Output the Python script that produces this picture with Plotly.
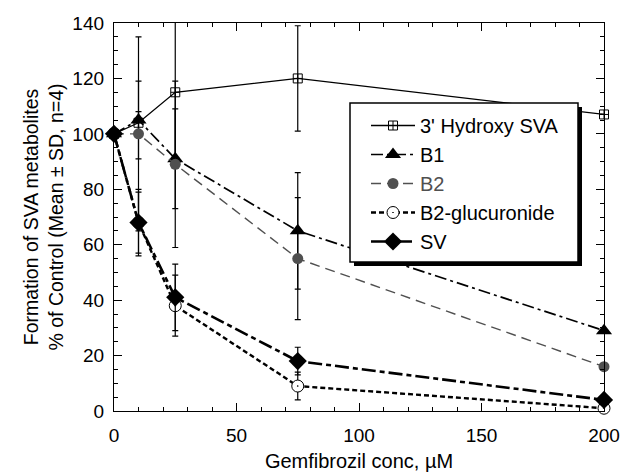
import plotly.graph_objects as go

# ---- data ----
conc = [0, 10, 25, 75, 200]
hydroxy_sva = [100, 104, 115, 120, 107]
hydroxy_sva_sd = [0, 4, 26, 19, 0]
b1 = [100, 105, 91, 65, 29]
b1_sd = [0, 14, 18, 21, 0]
b2 = [100, 100, 89, 55, 16]
b2_sd = [0, 35, 30, 22, 0]
b2_gluc = [100, 68, 38, 9, 1]
b2_gluc_sd = [0, 11, 11, 5, 0]
sv = [100, 68, 41, 18, 4]
sv_sd = [0, 12, 12, 5, 0]

FONT = "Arial, Liberation Sans, sans-serif"
W, H = 620, 475
L, R, T, B = 114, 16, 23, 64
PW, PH = W - L - R, H - T - B


def px_x(p):
    return (p - L) / PW


def px_y(p):
    return (H - B - p) / PH


def err(vals, color="black"):
    return dict(type="data", array=vals, visible=True, color=color,
                thickness=1.2, width=3)


fig = go.Figure()

fig.add_trace(go.Scatter(
    x=conc, y=hydroxy_sva, name="3' Hydroxy SVA", legendgroup="a",
    mode="lines+markers", error_y=err(hydroxy_sva_sd),
    line=dict(color="black", width=1.3),
    marker=dict(symbol="square-cross-open", size=9, color="black",
                line=dict(color="black", width=1)),
    cliponaxis=False))

fig.add_trace(go.Scatter(
    x=conc, y=b1, name="B1", legendgroup="b",
    mode="lines+markers", error_y=err(b1_sd),
    line=dict(color="black", width=1.7, dash="12px,4px,3px,4px"),
    marker=dict(symbol="triangle-up", size=14, color="black"),
    cliponaxis=False))

fig.add_trace(go.Scatter(
    x=conc, y=b2, name="<span style='color:#505050'>B2</span>", legendgroup="c",
    mode="lines+markers", error_y=err(b2_sd),
    line=dict(color="#505050", width=1.4, dash="10px,6px"),
    marker=dict(symbol="circle", size=11, color="#505050"),
    cliponaxis=False))

fig.add_trace(go.Scatter(
    x=conc, y=b2_gluc, name="B2-glucuronide", legendgroup="d",
    mode="lines+markers", error_y=err(b2_gluc_sd),
    line=dict(color="black", width=2.4, dash="5px,3px"),
    marker=dict(symbol="circle-dot", size=12, color="white",
                line=dict(color="black", width=1)),
    cliponaxis=False))

fig.add_trace(go.Scatter(
    x=conc, y=sv, name="SV", legendgroup="e",
    mode="lines+markers", error_y=err(sv_sd),
    line=dict(color="black", width=2.6, dash="14px,4px,5px,4px"),
    marker=dict(symbol="diamond", size=14, color="black"),
    cliponaxis=False))

# legend box with drop shadow
fig.add_shape(type="rect", xref="paper", yref="paper", layer="above",
              x0=px_x(354), x1=px_x(582), y0=px_y(266), y1=px_y(107),
              fillcolor="black", line=dict(width=0))
fig.add_shape(type="rect", xref="paper", yref="paper", layer="above",
              x0=px_x(350), x1=px_x(578), y0=px_y(262), y1=px_y(103),
              fillcolor="white", line=dict(color="black", width=1.5))

axis_common = dict(
    showline=True, linecolor="black", linewidth=1.3, mirror="ticks",
    ticks="inside", ticklen=8, tickwidth=1.2, tickcolor="black",
    showgrid=False, zeroline=False, automargin=False,
    tickfont=dict(family=FONT, size=19, color="black"),
)

fig.update_layout(
    width=W, height=H,
    margin=dict(l=L, r=R, t=T, b=B),
    paper_bgcolor="white", plot_bgcolor="white",
    font=dict(family=FONT, color="black"),
    xaxis=dict(range=[0, 200], tick0=0, dtick=50,
               minor=dict(dtick=10, ticks="inside", ticklen=4, tickcolor="black",
                          tickwidth=1.2),
               title=dict(text="Gemfibrozil conc, µM", font=dict(size=20), standoff=9),
               ticklabelstandoff=7,
               **axis_common),
    yaxis=dict(range=[0, 140], tick0=0, dtick=20,
               minor=dict(dtick=5, ticks="inside", ticklen=4, tickcolor="black",
                          tickwidth=1.2),
               title=dict(text="Formation of SVA metabolites<br>% of Control (Mean ± SD, n=4)",
                          font=dict(size=19.5), standoff=3),
               ticklabelstandoff=5,
               **axis_common),
    showlegend=True,
    legend=dict(x=px_x(366), y=px_y(106), xanchor="left", yanchor="top",
                bgcolor="rgba(0,0,0,0)", borderwidth=0,
                font=dict(family=FONT, size=20, color="black"),
                itemwidth=44, tracegroupgap=7, traceorder="normal"),
)

fig.write_html("out.html", config={"displayModeBar": False},
               post_script="document.body.style.margin='0';document.body.style.padding='0';")
